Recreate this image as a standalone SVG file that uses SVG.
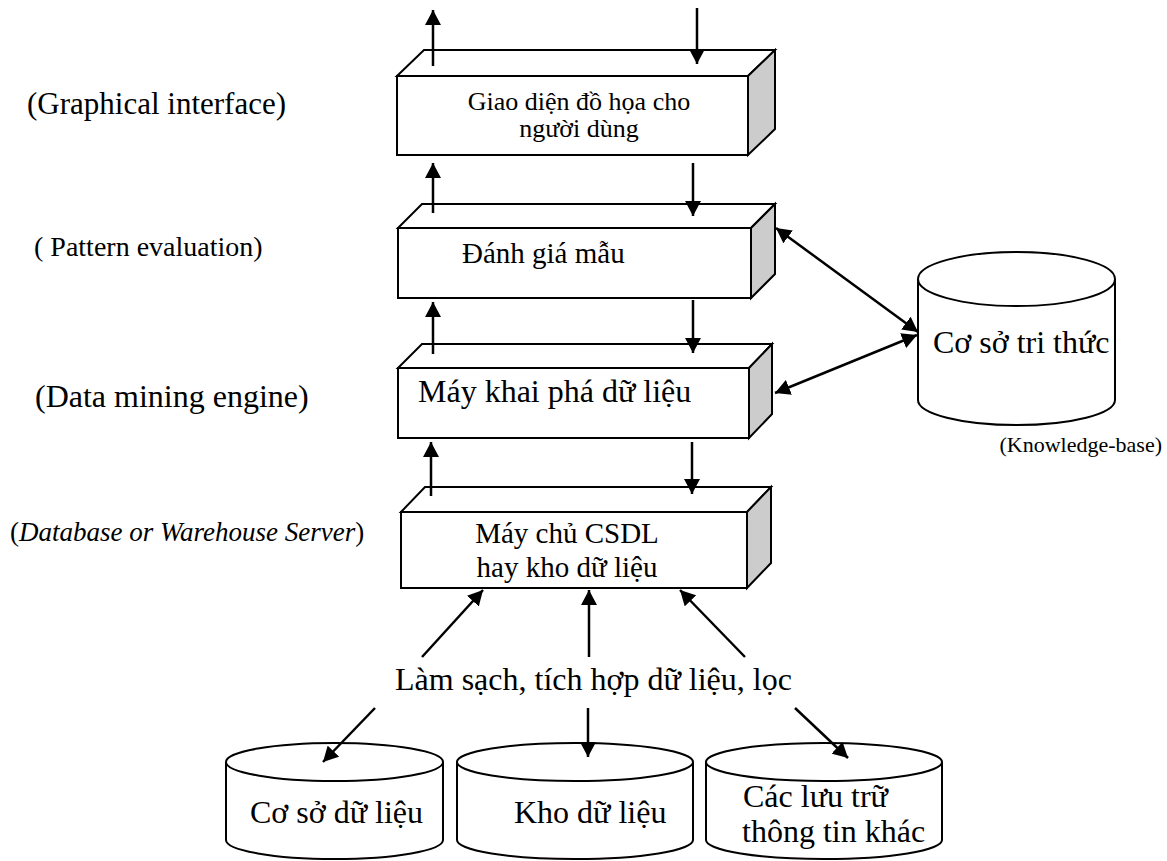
<svg xmlns="http://www.w3.org/2000/svg" width="1167" height="861" viewBox="0 0 1167 861">
  <style>
    .face { fill: #ffffff; stroke: #000000; stroke-width: 2; stroke-linejoin: miter; }
    .side { fill: #cccccc; stroke: #000000; stroke-width: 2; }
    .cyl { fill: #ffffff; stroke: #000000; stroke-width: 2; }
    .t { font-family: "Liberation Serif", "Times New Roman", serif; fill: #000000; }
    .link { fill: none; stroke: #000000; stroke-width: 2.5; }
  </style>
  <defs>
    <marker id="head" viewBox="0 0 15 16" refX="15" refY="8" markerWidth="15" markerHeight="16" markerUnits="userSpaceOnUse" orient="auto-start-reverse">
      <path d="M0,0 L15,8 L0,16 Z" fill="#000000"/>
    </marker>
  </defs>
  <rect width="1167" height="861" fill="#ffffff"/>

  <!-- layer labels -->
  <g id="labels">
    <text class="t" x="27" y="114" font-size="31">(Graphical interface)</text>
    <text class="t" x="34" y="256" font-size="28">( Pattern evaluation)</text>
    <text class="t" x="35" y="407" font-size="32">(Data mining engine)</text>
    <text class="t" x="10" y="541" font-size="27">(<tspan font-style="italic">Database or Warehouse Server</tspan>)</text>
    <text class="t" x="1162" y="452" font-size="22" text-anchor="end">(Knowledge-base)</text>
  </g>

  <!-- layer 1: graphical user interface -->
  <g id="gui">
    <polygon class="face" points="397,76 424,50 775,50 748,76"/>
    <polygon class="side" points="748,76 775,50 775,129 748,155"/>
    <rect class="face" x="397" y="76" width="351" height="79"/>
    <text class="t" x="579" y="110" font-size="26" text-anchor="middle">Giao diện đồ họa cho</text>
    <text class="t" x="579" y="137" font-size="26" text-anchor="middle">người dùng</text>
  </g>

  <!-- layer 2: pattern evaluation -->
  <g id="pattern">
    <polygon class="face" points="398,228 422,204 775,204 751,228"/>
    <polygon class="side" points="751,228 775,204 775,274 751,298"/>
    <rect class="face" x="398" y="228" width="353" height="70"/>
    <text class="t" x="462" y="263" font-size="29">Đánh giá mẫu</text>
  </g>

  <!-- layer 3: data mining engine -->
  <g id="engine">
    <polygon class="face" points="398,368 422,344 772,344 749,368"/>
    <polygon class="side" points="749,368 772,344 772,414 749,438"/>
    <rect class="face" x="398" y="368" width="351" height="70"/>
    <text class="t" x="418" y="402" font-size="32">Máy khai phá dữ liệu</text>
  </g>

  <!-- layer 4: database / warehouse server -->
  <g id="server">
    <polygon class="face" points="401,512 425,487 771,487 747,512"/>
    <polygon class="side" points="747,512 771,487 771,563 747,588"/>
    <rect class="face" x="401" y="512" width="346" height="76"/>
    <text class="t" x="567" y="543" font-size="29" text-anchor="middle">Máy chủ CSDL</text>
    <text class="t" x="567" y="577" font-size="29" text-anchor="middle">hay kho dữ liệu</text>
  </g>

  <!-- knowledge base -->
  <g id="knowledge">
    <path class="cyl" d="M918,279 L918,400 A98.5,25 0 0 0 1115,400 L1115,279"/>
    <ellipse class="cyl" cx="1016.5" cy="279" rx="98.5" ry="27"/>
    <text class="t" x="933" y="353" font-size="32">Cơ sở tri thức</text>
  </g>

  <!-- cleaning / integration step -->
  <g id="cleaning">
    <text class="t" x="395" y="690" font-size="32">Làm sạch, tích hợp dữ liệu, lọc</text>
  </g>

  <!-- data sources -->
  <g id="database">
    <path class="cyl" d="M226,762 L226,840 A108.5,19 0 0 0 443,840 L443,762"/>
    <ellipse class="cyl" cx="334.5" cy="762" rx="108.5" ry="19"/>
    <text class="t" x="250" y="823" font-size="32">Cơ sở dữ liệu</text>
  </g>
  <g id="warehouse">
    <path class="cyl" d="M457,762 L457,840 A118,19 0 0 0 693,840 L693,762"/>
    <ellipse class="cyl" cx="575" cy="762" rx="118" ry="19"/>
    <text class="t" x="514" y="823" font-size="32">Kho dữ liệu</text>
  </g>
  <g id="other-stores">
    <path class="cyl" d="M706,762 L706,840 A118,19 0 0 0 942,840 L942,762"/>
    <ellipse class="cyl" cx="824" cy="762" rx="118" ry="19"/>
    <text class="t" x="743" y="807" font-size="32">Các lưu trữ</text>
    <text class="t" x="742" y="842" font-size="32">thông tin khác</text>
  </g>

  <!-- connectors -->
  <g id="connectors">
    <path class="link" d="M433,66 L433,10" marker-end="url(#head)"/>
    <path class="link" d="M697,8 L697,64" marker-end="url(#head)"/>
    <path class="link" d="M433,213 L433,163" marker-end="url(#head)"/>
    <path class="link" d="M693,163 L693,216" marker-end="url(#head)"/>
    <path class="link" d="M433,354 L433,302" marker-end="url(#head)"/>
    <path class="link" d="M693,300 L693,353" marker-end="url(#head)"/>
    <path class="link" d="M431,496 L431,442" marker-end="url(#head)"/>
    <path class="link" d="M692,442 L692,494" marker-end="url(#head)"/>

    <path class="link" d="M776,228 L918,332" marker-start="url(#head)" marker-end="url(#head)"/>
    <path class="link" d="M775,393 L917,335" marker-start="url(#head)" marker-end="url(#head)"/>

    <path class="link" d="M422,657 L483,590" marker-end="url(#head)"/>
    <path class="link" d="M589,657 L589,590" marker-end="url(#head)"/>
    <path class="link" d="M745,657 L680,590" marker-end="url(#head)"/>

    <path class="link" d="M375,708 L323,762" marker-end="url(#head)"/>
    <path class="link" d="M588,708 L588,757" marker-end="url(#head)"/>
    <path class="link" d="M795,708 L848,758" marker-end="url(#head)"/>
  </g>
</svg>
